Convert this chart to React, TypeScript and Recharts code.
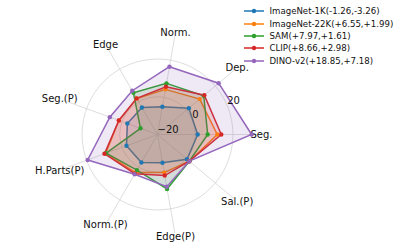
import React from "react";
import { RadarChart, Radar, PolarGrid, PolarAngleAxis, PolarRadiusAxis, Legend } from "recharts";

const FONT = "'DejaVu Sans', sans-serif";

// clockwise from Norm. (at 80deg), same layout as the matplotlib original
const axes = ["Norm.", "Dep.", "Seg.", "Sal.(P)", "Edge(P)", "Norm.(P)", "H.Parts(P)", "Seg.(P)", "Edge"];

const imagenet1k = [-5.1, 1.7, 1.3, 0.4, -4.8, -2.9, -2.5, -3.0, -3.5];
const imagenet22k = [4.3, 9.2, 11.7, 2.0, 0.5, 3.3, 9.2, 1.8, 2.0];
const sam = [7.5, 12.0, 6.6, 2.0, 9.3, 1.8, 9.0, -10.4, 5.5];
const clip = [5.7, 12.4, 13.8, 2.0, 2.1, 4.0, 9.9, 1.8, 2.1];
const dino = [16.5, 22.3, 29.9, 2.0, 8.1, 4.3, 19.4, 6.9, 6.8];

const seriesNames = [
  "ImageNet-1K(-1.26,-3.26)",
  "ImageNet-22K(+6.55,+1.99)",
  "SAM(+7.97,+1.61)",
  "CLIP(+8.66,+2.98)",
  "DINO-v2(+18.85,+7.18)",
];
const seriesValues = [imagenet1k, imagenet22k, sam, clip, dino];
const COLORS = ["#1f77b4", "#ff7f0e", "#2ca02c", "#d62728", "#9467bd"];

const radiusTicks = [-20, 0, 20];

const data = axes.map((axis, i) => {
  const row: any = { axis };
  seriesValues.forEach((vals, s) => {
    row[`s${s}`] = vals[i];
  });
  return row;
});

const CX = 157.5;
const CY = 134.5;
const LABEL_R = 104;

const AngleTick = (props: any) => {
  const { x, y, payload } = props;
  const dx = x - CX;
  const dy = y - CY;
  const d = Math.sqrt(dx * dx + dy * dy) || 1;
  return (
    <text
      x={CX + (dx / d) * LABEL_R}
      y={CY + (dy / d) * LABEL_R}
      textAnchor="middle"
      dominantBaseline="central"
      fontFamily={FONT}
      fontSize={10}
      fill="#111"
    >
      {payload.value}
    </text>
  );
};

const RadiusTick = (props: any) => {
  const { x, y, payload } = props;
  return (
    <text x={x} y={y - 2} textAnchor="start" fontFamily={FONT} fontSize={10} fill="#111">
      {payload.value < 0 ? `\u2212${Math.abs(payload.value)}` : payload.value}
    </text>
  );
};

const LegendBox = () => (
  <div style={{ fontFamily: FONT, fontSize: 8.6, color: "#111" }}>
    {seriesNames.map((name, i) => (
      <div key={name} style={{ display: "flex", alignItems: "center", height: 12.4 }}>
        <svg width={20} height={6}>
          <line x1={0} y1={3} x2={20} y2={3} stroke={COLORS[i]} strokeWidth={1.5} />
          <circle cx={10} cy={3} r={2.2} fill={COLORS[i]} />
        </svg>
        <span style={{ marginLeft: 5.5, whiteSpace: "nowrap" }}>{name}</span>
      </div>
    ))}
  </div>
);

export default function App() {
  return (
    <div style={{ position: "absolute", left: 0, top: 0, width: 397, height: 248, background: "#fff" }}>
      <RadarChart
        width={397}
        height={248}
        data={data}
        cx={CX}
        cy={CY}
        outerRadius={100}
        startAngle={80}
        endAngle={-280}
        margin={{ top: 0, right: 0, bottom: 0, left: 0 }}
      >
        <PolarGrid gridType="circle" stroke="#d4d4d4" strokeWidth={0.8} />
        <PolarAngleAxis dataKey="axis" tick={<AngleTick />} axisLine={false} tickLine={false} />
        <PolarRadiusAxis
          angle={22.5}
          domain={[-20, 33]}
          ticks={radiusTicks as any}
          allowDataOverflow
          type="number"
          axisLine={false}
          tickLine={false}
          tick={<RadiusTick />}
        />
        {seriesNames.map((name, i) => (
          <Radar
            key={name}
            name={name}
            dataKey={`s${i}`}
            stroke={COLORS[i]}
            strokeWidth={1.5}
            fill={COLORS[i]}
            fillOpacity={0.15}
            dot={{ r: 2.2, fill: COLORS[i], fillOpacity: 1, strokeWidth: 0 }}
            isAnimationActive={false}
          />
        ))}
        <Legend content={<LegendBox />} wrapperStyle={{ position: "absolute", left: 244, top: 5, width: 160 }} />
      </RadarChart>
    </div>
  );
}
